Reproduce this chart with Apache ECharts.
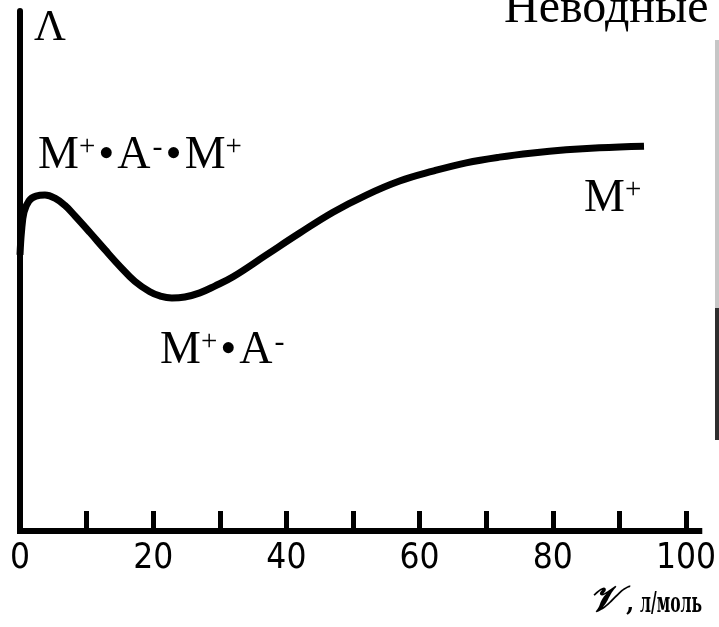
<!DOCTYPE html>
<html>
<head>
<meta charset="utf-8">
<script src="https://cdn.jsdelivr.net/npm/echarts@6/dist/echarts.min.js"></script>
<style>
html,body{margin:0;padding:0;background:#fff;}
#c{width:719px;height:627px;}
</style>
</head>
<body>
<div id="c"></div>
<script>
// Data (V in l/mol, Λ in arbitrary units 0..100)
const vValues = [0, 0.22, 0.6, 1.35, 2.4, 3.75, 5.25, 6.75, 8.25, 10.5, 12.75, 15.0, 17.25, 19.5, 21.0, 22.8, 24.75, 27.0, 29.25, 32.0, 37.0, 42.0, 47.0, 52.0, 57.0, 62.0, 67.0, 72.0, 77.0, 82.0, 87.0, 93.7];
const lambdaValues = [53.1, 57.5, 61.3, 63.5, 64.4, 64.6, 64.0, 62.6, 60.6, 57.4, 54.1, 50.9, 48.0, 46.0, 45.2, 44.8, 45.0, 45.8, 47.1, 48.9, 53.1, 57.3, 61.3, 64.6, 67.3, 69.2, 70.8, 71.9, 72.7, 73.3, 73.7, 74.0];
const xTickValues = [10, 20, 30, 40, 50, 60, 70, 80, 90, 100];
const xLabelValues = [0, 20, 40, 60, 80, 100];

const chart = echarts.init(document.getElementById('c'), null, {renderer: 'canvas'});

const serif = 'Liberation Serif';
function supRich(size) {
  return {
    m: {fontSize: size, fontFamily: serif, color: '#000', lineHeight: 46},
    p: {fontSize: 29, fontFamily: serif, color: '#000', lineHeight: 30, verticalAlign: 'top'},
    n: {fontSize: 30, fontFamily: serif, color: '#000', lineHeight: 22, verticalAlign: 'top', padding: [0, 0, 0, 2]},
    d: {fontSize: size, fontFamily: serif, color: '#000', lineHeight: 46, padding: [0, 3, 0, 3]}
  };
}

// fit the unit text into the width it occupies in the picture
const unitText = 'л/моль';
const unitFont = 'bold 27px "DejaVu Serif Condensed", "DejaVu Serif"';
const mctx = document.createElement('canvas').getContext('2d');
mctx.font = unitFont;
const unitScale = 62 / mctx.measureText(unitText).width;

const option = {
  backgroundColor: '#fff',
  animation: false,
  grid: {left: 20, right: 19, top: 11, bottom: 96, containLabel: false},
  xAxis: {
    type: 'value',
    min: 0,
    max: 102,
    interval: 10,
    axisLine: {show: true, lineStyle: {color: '#000', width: 6, cap: 'square'}},
    axisTick: {show: true, inside: true, length: 20, customValues: xTickValues, lineStyle: {color: '#000', width: 5}},
    axisLabel: {
      show: true, customValues: xLabelValues, margin: 10,
      fontFamily: 'DejaVu Sans Condensed', fontSize: 35, color: '#000'
    },
    splitLine: {show: false}
  },
  yAxis: {
    type: 'value',
    min: 0,
    max: 100,
    axisLine: {show: true, lineStyle: {color: '#000', width: 6}},
    axisTick: {show: false},
    axisLabel: {show: false},
    splitLine: {show: false}
  },
  series: [{
    type: 'line',
    data: vValues.map((v, i) => [v, lambdaValues[i]]),
    smooth: 0.4,
    symbol: 'none',
    lineStyle: {color: '#000', width: 7},
    clip: false
  }],
  graphic: [
    {type: 'text', style: {text: 'Λ', x: 34, y: 28, fontFamily: serif, fontSize: 44, fill: '#000', textVerticalAlign: 'middle'}},
    {type: 'text', style: {text: 'Неводные', x: 504, y: 9, fontFamily: serif, fontSize: 48, fill: '#000', textVerticalAlign: 'middle'}},
    {type: 'text', style: {
      text: '{m|M}{p|+}{d|•}{m|A}{n|-}{d|•}{m|M}{p|+}', rich: supRich(46),
      x: 38, y: 156, textVerticalAlign: 'middle'
    }},
    {type: 'text', style: {
      text: '{m|M}{p|+}{d|•}{m|A}{n|-}', rich: supRich(46),
      x: 160, y: 351, textVerticalAlign: 'middle'
    }},
    {type: 'text', style: {
      text: '{m|M}{p|+}', rich: supRich(46),
      x: 584, y: 199, textVerticalAlign: 'middle'
    }},
    {type: 'text', style: {text: '𝒱', x: 589, y: 620, fontFamily: 'DejaVu Serif', fontWeight: 'bold', fontStyle: 'italic', fontSize: 36, fill: '#000', textVerticalAlign: 'bottom'}},
    {type: 'text', style: {text: ',', x: 626, y: 617, fontFamily: 'DejaVu Serif', fontWeight: 'bold', fontSize: 24, fill: '#000', textVerticalAlign: 'bottom'}},
    {type: 'text', x: 640, y: 618, scaleX: unitScale, style: {text: unitText, x: 0, y: 0, font: unitFont, fill: '#000', textVerticalAlign: 'bottom'}},
    {type: 'rect', shape: {x: 715, y: 40, width: 4, height: 268}, style: {fill: '#c6c6c6'}},
    {type: 'rect', shape: {x: 715, y: 308, width: 4, height: 132}, style: {fill: '#2e2e2e'}}
  ]
};
chart.setOption(option);
</script>
</body>
</html>
